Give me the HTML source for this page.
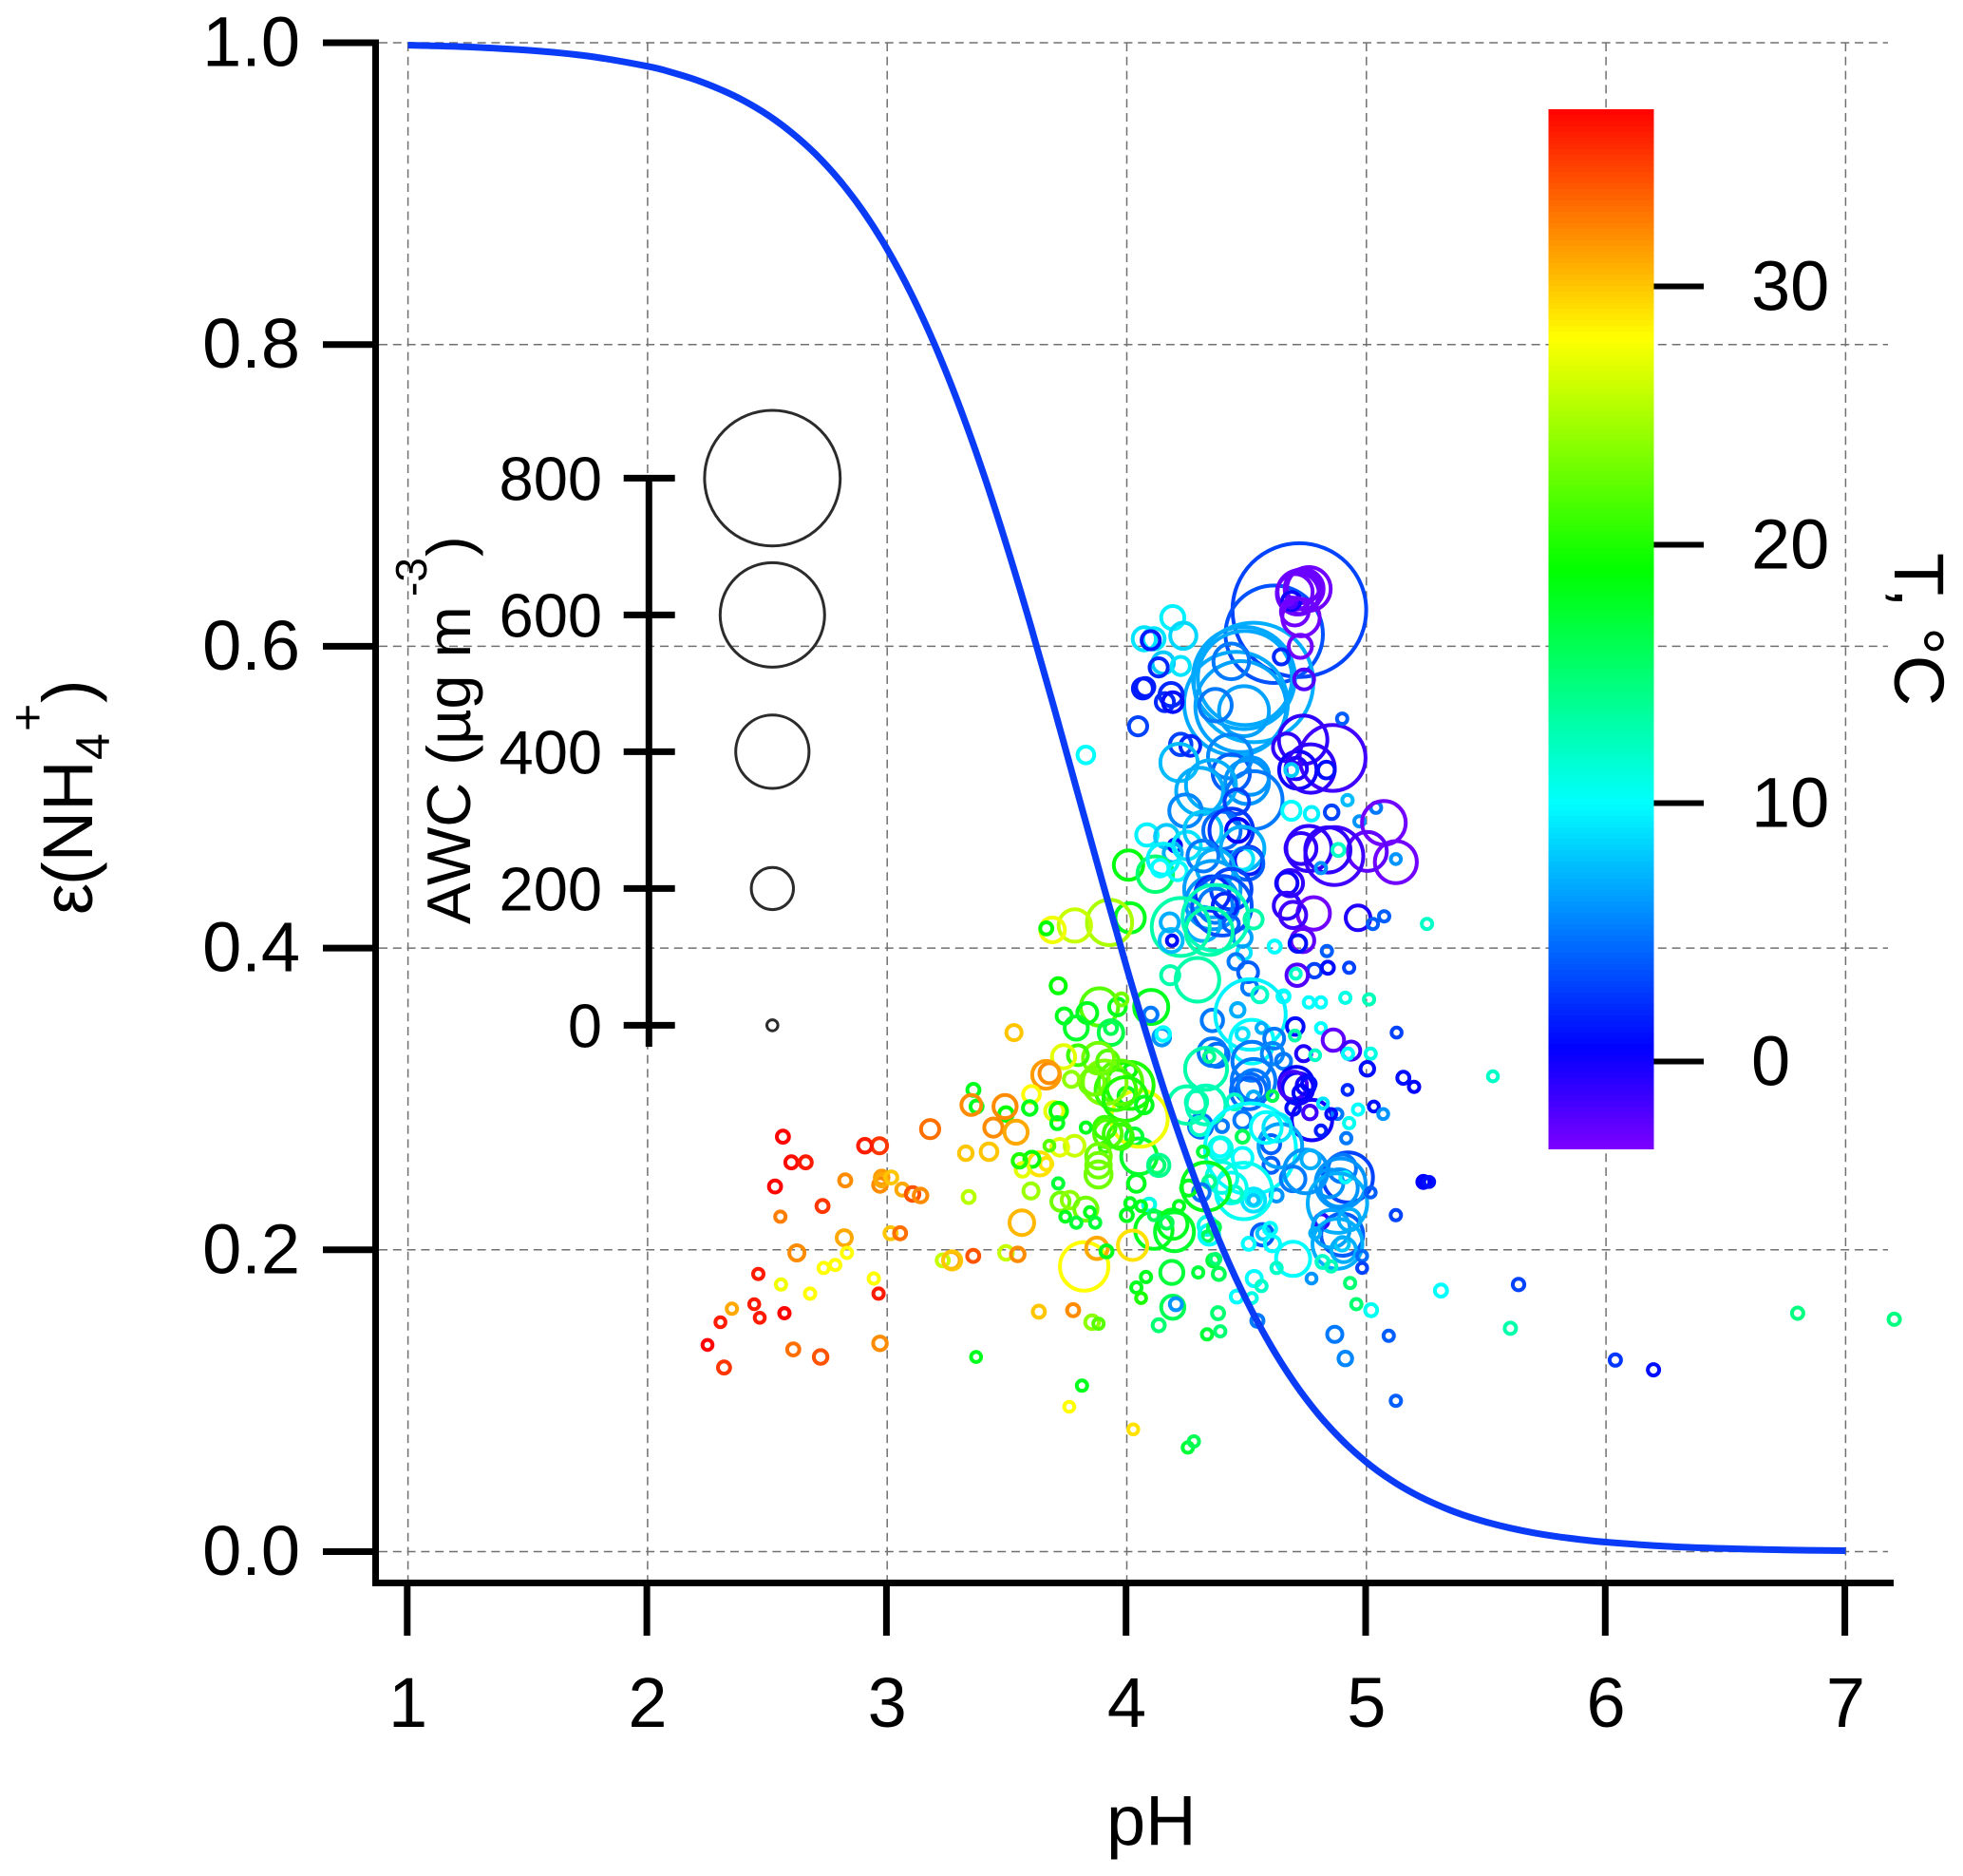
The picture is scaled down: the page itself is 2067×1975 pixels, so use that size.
<!DOCTYPE html>
<html lang="en">
<head>
<meta charset="utf-8">
<title>Epsilon NH4+ versus pH</title>
<style>
html,body{margin:0;padding:0;background:#fff;}
svg{display:block;font-family:"Liberation Sans",sans-serif;}
</style>
</head>
<body>
<svg id="chart" xmlns="http://www.w3.org/2000/svg" width="2067" height="1975" viewBox="0 0 2067 1975">
  <rect x="0" y="0" width="2067" height="1975" fill="#ffffff"/>
  <g id="grid"></g>
  <g id="colorbar"></g>
  <g id="points"></g>
  <g id="curve"></g>
  <g id="axes"></g>
  <g id="legend"></g>

  <g fill="#000" font-size="74">
    <text transform="translate(97,963) rotate(-90)">ε</text>
    <text transform="translate(97,932) rotate(-90)">(NH</text>
    <text font-size="50" transform="translate(115,800) rotate(-90)">4</text>
    <text font-size="50" transform="translate(46,770) rotate(-90)">+</text>
    <text transform="translate(97,740) rotate(-90)">)</text>
  </g>
  <text x="1165" y="1942" font-size="74" fill="#000">pH</text>
  <text transform="translate(1995,582) rotate(90)" font-size="74" fill="#000">T, °C</text>
  <g fill="#000" font-size="65">
    <text transform="translate(495,973) rotate(-90)">AWC (µg m</text>
    <text font-size="46" transform="translate(449,628) rotate(-90)">-3</text>
    <text transform="translate(495,586) rotate(-90)">)</text>
  </g>
</svg>
<script>
const yTicks = [0, 0.2, 0.4, 0.6, 0.8, 1.0];
const yTickLabels = ["0.0", "0.2", "0.4", "0.6", "0.8", "1.0"];
const xTicks = [1, 2, 3, 4, 5, 6, 7];
const xTickLabels = ["1", "2", "3", "4", "5", "6", "7"];
const tempTicks = [0, 10, 20, 30];
const tempTickLabels = ["0", "10", "20", "30"];
const awcTicks = [0, 200, 400, 600, 800];
const awcTickLabels = ["0", "200", "400", "600", "800"];

const curvePh = [1,1.25,1.5,1.75,2,2.1,2.2,2.3,2.4,2.5,2.6,2.7,2.8,2.9,3,3.1,3.2,3.3,3.4,3.5,3.6,3.7,3.8,3.9,4,4.1,4.2,4.3,4.4,4.5,4.6,4.7,4.8,4.9,5,5.1,5.2,5.3,5.4,5.5,5.6,5.7,5.8,5.9,6,6.25,6.5,6.75,7];
const curveEps = [0.9984,0.9972,0.995,0.9912,0.9844,0.9804,0.9755,0.9693,0.9617,0.9523,0.9406,0.9264,0.9091,0.8882,0.8632,0.8337,0.7992,0.7597,0.7153,0.6661,0.6131,0.5573,0.5,0.4427,0.3869,0.3339,0.2847,0.2403,0.2008,0.1663,0.1368,0.1118,0.0909,0.0736,0.0593,0.0477,0.0383,0.0307,0.0245,0.0196,0.0156,0.0124,0.0099,0.0079,0.0063,0.0035,0.002,0.0011,0.0006];

const pointPh = [
4.72,4.615,4.529,4.489,4.493,4.476,4.456,4.436,4.489,4.37,
4.76,4.74,4.72,4.701,4.714,4.734,4.687,4.687,4.701,4.727,
4.724,4.645,4.74,4.192,4.073,4.113,4.1,4.236,4.152,4.133,
4.225,4.077,4.067,4.185,4.159,4.192,4.047,3.829,4.225,4.265,
4.218,4.436,4.43,4.516,4.502,4.529,4.351,4.304,4.245,4.459,
4.736,4.668,4.859,4.714,4.707,4.767,4.833,4.899,4.687,4.687,
4.771,4.855,4.921,5.04,4.971,5.073,5.123,5.123,5.004,4.866,
4.76,4.839,4.727,4.883,4.81,4.681,4.668,4.78,4.668,4.694,
4.965,5.027,5.074,5.253,4.734,4.714,4.835,4.783,4.839,4.928,
4.711,4.705,4.617,4.489,4.456,4.506,4.483,4.084,4.166,4.201,
4.192,4.007,4.119,4.152,4.139,4.212,4.251,4.318,4.397,4.463,
4.436,4.483,4.509,4.483,4.502,4.37,4.318,4.357,4.357,4.436,
4.37,4.318,4.357,4.41,4.397,4.436,4.225,4.37,4.344,4.529,
4.185,4.179,4.189,4.014,3.928,3.783,3.69,3.664,4.181,4.295,
4.513,4.555,4.654,4.657,4.76,4.81,4.912,5.011,3.714,3.886,
3.835,3.739,3.961,3.978,3.789,3.934,3.934,4.102,4.1,4.146,
4.152,4.463,4.357,4.516,4.522,4.562,4.703,4.615,4.483,4.701,
4.81,4.862,4.936,4.923,5.018,5.004,4.738,4.786,5.126,5.154,
5.199,5.528,4.377,4.357,4.331,4.344,4.522,4.608,4.654,4.529,
4.509,4.529,4.509,4.529,4.608,4.707,4.714,4.694,4.747,4.76,
4.727,4.694,4.764,4.773,4.81,4.819,4.879,4.921,4.965,4.928,
5.031,5.07,4.916,4.853,4.308,4.304,4.397,4.483,4.291,4.251,
4.331,4.45,4.602,4.602,4.483,4.516,4.39,4.39,4.318,4.483,
4.641,4.628,4.582,4.923,4.899,4.846,4.886,4.912,4.892,4.879,
5.018,4.813,4.899,4.853,4.899,4.786,4.879,4.905,4.982,4.982,
4.929,4.694,4.747,4.767,4.566,4.569,4.598,4.509,4.694,4.608,
4.625,4.771,4.817,4.853,4.932,4.958,5.02,5.123,5.238,5.249,
5.262,5.093,4.868,4.912,5.123,5.311,4.529,4.529,4.529,4.625,
4.489,4.436,4.45,4.397,4.344,4.331,4.311,4.258,4.337,4.337,
4.344,4.364,4.199,4.113,4.192,4.166,4.218,4.093,4.014,4,
4.04,4.06,4.113,4.051,4.133,4.126,4.031,4.053,4.014,4,
4.014,3.974,3.908,3.868,3.954,3.855,3.994,4.073,3.921,3.882,
3.769,3.796,3.736,3.677,3.697,3.716,3.71,3.829,3.921,3.908,
3.961,3.974,3.908,3.882,3.882,3.882,3.782,3.72,3.677,3.664,
3.714,3.723,3.763,3.829,3.846,3.743,3.789,3.868,3.822,3.875,
3.915,4.024,4.188,4.298,4.361,4.37,4.384,4.08,4.04,4.06,
4.192,4.205,4.133,4.381,4.335,4.39,4.532,4.562,4.459,4.522,
4.545,3.776,3.855,3.882,3.813,3.76,3.529,3.663,3.602,3.595,
3.496,3.492,3.443,3.538,3.36,3.373,3.351,3.637,3.604,3.565,
3.552,3.179,2.968,2.907,3.425,3.328,2.565,2.6,2.66,2.532,
2.825,2.977,2.97,2.977,3.017,3.063,3.106,3.139,2.73,2.554,
3.34,3.6,3.014,3.054,2.821,3.562,2.623,2.832,2.783,2.735,
2.557,2.678,2.944,2.964,2.462,2.445,2.468,2.571,2.571,2.352,
2.304,2.25,2.319,2.608,2.722,2.97,3.232,3.268,3.271,3.359,
3.496,3.545,3.633,3.371,4.027,5.635,5.601,6.039,6.198,6.8,7.203,
4.255,4.28
];
const pointEps = [
.624,.608,.576,.579,.579,.56,.562,.59,.557,.561,
.638,.638,.636,.636,.635,.64,.63,.629,.623,.619,
.6,.593,.578,.619,.605,.605,.604,.607,.589,.586,
.587,.573,.572,.568,.563,.563,.547,.528,.535,.534,
.523,.516,.527,.514,.51,.498,.508,.504,.491,.497,
.538,.533,.526,.518,.519,.519,.518,.552,.518,.491,
.489,.49,.498,.493,.484,.483,.457,.459,.464,.461,
.466,.465,.466,.465,.453,.443,.443,.423,.428,.422,
.42,.416,.421,.416,.405,.403,.398,.385,.387,.387,
.382,.383,.401,.397,.391,.384,.407,.475,.474,.468,
.463,.455,.449,.459,.453,.451,.468,.478,.478,.478,
.478,.466,.458,.459,.456,.453,.461,.439,.43,.439,
.428,.416,.436,.428,.428,.416,.414,.42,.411,.419,
.405,.417,.405,.42,.417,.415,.412,.413,.382,.379,
.374,.369,.368,.368,.364,.364,.367,.366,.375,.361,
.357,.355,.361,.366,.347,.344,.347,.361,.356,.341,
.343,.359,.352,.356,.338,.347,.348,.34,.343,.342,
.347,.339,.332,.33,.33,.32,.33,.329,.344,.314,
.308,.315,.329,.331,.32,.328,.325,.33,.325,.312,
.306,.301,.305,.309,.302,.31,.307,.309,.309,.31,
.304,.294,.291,.286,.279,.297,.29,.306,.293,.284,
.295,.29,.274,.29,.282,.282,.282,.286,.298,.296,
.296,.298,.27,.256,.261,.267,.268,.267,.265,.275,
.269,.281,.281,.248,.254,.244,.241,.248,.244,.231,
.238,.219,.21,.214,.204,.211,.204,.2,.196,.188,
.22,.247,.252,.26,.21,.211,.214,.204,.194,.204,
.188,.181,.192,.189,.178,.164,.16,.223,.245,.245,
.245,.143,.144,.128,.1,.173,.233,.234,.233,.236,
.239,.241,.237,.248,.245,.242,.238,.241,.216,.209,
.21,.215,.212,.213,.217,.218,.229,.23,.231,.223,
.244,.229,.223,.262,.256,.256,.275,.287,.309,.302,
.319,.311,.311,.312,.306,.311,.3,.296,.325,.327,
.313,.329,.328,.317,.292,.292,.284,.281,.277,.281,
.277,.275,.268,.262,.256,.25,.269,.268,.269,.257,
.244,.232,.233,.227,.225,.222,.218,.218,.189,.201,
.199,.203,.185,.185,.193,.194,.184,.182,.175,.168,
.162,.164,.15,.158,.144,.146,.181,.176,.169,.168,
.153,.16,.152,.151,.11,.096,.344,.316,.303,.294,
.29,.295,.281,.278,.306,.295,.296,.257,.26,.253,
.259,.28,.269,.269,.265,.264,.275,.258,.258,.242,
.246,.248,.243,.246,.248,.24,.237,.236,.229,.222,
.235,.239,.211,.211,.208,.218,.198,.198,.19,.188,
.177,.171,.181,.171,.184,.164,.155,.158,.158,.161,
.152,.137,.122,.134,.129,.138,.193,.193,.193,.196,
.198,.197,.159,.129,.081,.177,.148,.127,.1205,.158,.154,
.069,.073
];
const pointAwc = [
794,561,703,591,540,520,601,165,256,144,
216,185,216,165,205,155,53,0,114,175,
84,33,63,84,84,73,53,104,73,53,
53,53,63,84,53,63,53,43,73,63,
175,175,216,175,216,307,256,236,144,94,
246,114,358,175,73,246,43,2,13,53,
23,23,2,2,2,216,205,0,185,307,
226,226,134,13,2,104,73,144,104,104,
94,2,2,2,84,43,2,23,13,2,
73,0,13,23,33,63,53,73,84,13,
53,124,165,134,43,53,114,175,175,84,
216,216,114,73,144,175,134,297,276,195,
155,155,155,94,317,33,307,358,236,53,
84,53,2,124,226,144,94,13,53,216,
33,33,13,0,2,2,2,2,33,175,
63,33,43,13,84,94,13,155,23,43,
23,23,73,388,216,0,43,63,13,0,
0,73,53,2,2,23,33,0,0,13,
2,0,84,114,205,2,185,73,33,216,
94,13,165,134,0,155,134,114,53,23,
33,23,23,195,2,0,0,0,2,2,
0,0,2,0,84,53,13,43,73,175,
185,33,53,33,63,520,53,84,2,13,
216,114,134,256,114,114,175,0,256,317,
0,23,205,175,23,0,256,94,0,0,
73,94,216,53,73,13,13,13,155,33,
2,0,13,2,2,2,13,2,13,0,
0,2,33,23,2,13,84,33,0,13,
297,134,33,134,13,246,43,33,53,0,
63,13,185,175,124,13,2,13,0,13,
43,0,0,165,73,33,43,297,236,43,
13,216,216,114,195,94,216,43,73,134,
33,63,84,63,53,43,13,2,114,73,
114,94,0,94,94,104,63,43,0,13,
2,53,43,84,0,0,2,2,246,73,
13,124,84,2,13,0,13,2,2,0,
84,13,13,13,2,2,33,2,13,0,
13,13,23,2,2,0,33,114,43,23,
23,84,53,84,13,13,63,84,33,23,
23,53,33,23,43,23,13,13,13,13,
13,23,23,13,13,13,23,23,13,2,
13,33,13,13,33,94,33,2,2,2,
2,2,2,2,2,0,0,2,0,2,
0,0,13,13,23,23,13,43,53,13,
23,23,13,0,0,10,8,8,8,8,8,
2,2
];
const pointTemp = [
3,3.5,7,6.8,6.8,6.5,6.8,5,6.5,5,
-3,-3,-3,-3,-2.8,-2.8,0,-2,-3,-3,
-3,2,-2,9.5,9,9,1.5,8.5,8,2,
9,1.5,1.5,2,2,1,3,10,3,2,
7.5,4,5.5,6,6,5,7,7,5.5,3,
-1,-1,-1.5,0,-.5,-1,1,4,8,10,
9.5,3,7.5,5,6,-3,-3,6,-2.5,-1.5,
-1,-1,-1,12,6,-1,0,-3,-1,-1.5,
-.5,4,4,12,-2.5,1,4,3,1,3,
-2,12,10,9,5,4,6.5,9.5,8,1,
7,18.5,15,9.5,10,10,9,8,4.5,.5,
2.5,7,1.5,9,4,7,5,6.5,6,3,
5,7,2,2,3.5,4,13,12.5,13,13,
7.5,7,1,18,25,26,27.5,19,13,13,
5,12,10,10,10,10,11,12.5,19,22,
18,18,18,23,17.5,16.5,16,18,5,6,
10,7,5,9.5,10,7,1,5,9,13,
10,-2.5,-1.5,10,11,1,-.5,12,3,1,
.5,12,4.5,5,13,14,5,5.5,5,5,
4,7,4.5,5,16,.5,0,-1.5,0,1,
.5,1,-1.5,0,1.5,9,5,2,10,10.5,
1,6,5,1,4.5,12,5,5,13,13,
12.5,12,4,4,10,10,10,11,17,16,
6.5,9,10,3,5,6,6,10,6,7,
4,-1,4,6.5,8,7,7,7,4.5,3,
7,5,6,7,4,8,10,10,10,10,
12,6,12,12.5,15,15,10.5,3,.5,.5,
1,4,5,5.5,4,10,9,9.5,8,6,
10.5,10.5,12,11,14,18,5,18,11,16,
10,16,17.5,18,18,16,18,11,18,18,
18,18,16,17.5,14,15,17,27.5,20,18,
19,22,23.5,23,21,23,20,18,22,23,
24,21,27,32,27,19,18,18,22,21,
21,21,21,23,23,23,26,27,22,29,
17,23,24,23,18,18,17,17,28,31,
18,29,17,17,17,15,16,18,18,20,
16,6,15,15,17,15,10,12,10,11,
5,32,24,22,18,28,30,31.5,28,18,
19,32,32,31,18,18,32,29,19,27,
20,33,35,36,30,30,36.8,36.5,36,36.8,
32,31.5,32,31,30,31,34,32,35,32.5,
25.5,24.5,30,33,31,30.5,32,28,28,28,
27.5,28,28,36,36,36,36,36.8,36.8,31,
36,36.8,35,33,34,32,26,31,30,34,
26,32,30,18,29,3,13,2.5,1,14.5,14.5,
17,16
];

const rainbowTemps = [-3.4, 0.5, 10, 19, 28, 36.9];
const rainbowReds = [125, 0, 0, 0, 255, 255];
const rainbowGreens = [0, 0, 255, 255, 255, 0];
const rainbowBlues = [255, 255, 255, 0, 0, 0];

function xScale(ph) { return 429.6 + (ph - 1) * 252.3; }
function yScale(eps) { return 1633.5 - eps * 1588.5; }
function tempScale(t) { return 1117.5 - t * 27.2; }
function awcScale(a) { return 1079.4 - a * 0.72; }
function radiusScale(a) { return 7.3 + a * 0.082; }

function tempColor(t) {
  let i = 0;
  while (i < rainbowTemps.length - 2 && t > rainbowTemps[i + 1]) i++;
  const f = Math.max(0, Math.min(1, (t - rainbowTemps[i]) / (rainbowTemps[i + 1] - rainbowTemps[i])));
  const mix = function (c) { return Math.round(c[i] + (c[i + 1] - c[i]) * f); };
  return "rgb(" + mix(rainbowReds) + "," + mix(rainbowGreens) + "," + mix(rainbowBlues) + ")";
}

const SVG_NS = "http://www.w3.org/2000/svg";
function make(parent, tag, attrs, text) {
  const el = document.createElementNS(SVG_NS, tag);
  for (const k in attrs) el.setAttribute(k, attrs[k]);
  if (text !== undefined) el.textContent = text;
  parent.appendChild(el);
  return el;
}

const gridGroup = document.getElementById("grid");
const colorbarGroup = document.getElementById("colorbar");
const pointsGroup = document.getElementById("points");
const curveGroup = document.getElementById("curve");
const axesGroup = document.getElementById("axes");
const legendGroup = document.getElementById("legend");
const gridStyle = { stroke: "#707070", "stroke-width": 1.5, "stroke-dasharray": "9 5.8", fill: "none" };

yTicks.forEach(function (v) {
  const el = make(gridGroup, "line", Object.assign({ x1: 399, x2: 1988, y1: yScale(v), y2: yScale(v) }, gridStyle));
  
  
});
xTicks.forEach(function (v) {
  const el = make(gridGroup, "line", Object.assign({ x1: xScale(v), x2: xScale(v), y1: 45, y2: 1663 }, gridStyle));
  
  
});

const colorbarTop = 115;
const colorbarBottom = 1210;
const colorbarBandHeight = 6;
for (let y = colorbarTop; y < colorbarBottom; y += colorbarBandHeight) {
  const t = (1117.5 - (y + colorbarBandHeight / 2)) / 27.2;
  const band = make(colorbarGroup, "rect", { x: 1630.5, y: y, width: 111, height: Math.min(colorbarBandHeight + 0.5, colorbarBottom - y), fill: tempColor(t) });
  
  
}
tempTicks.forEach(function (v, i) {
  const tick = make(colorbarGroup, "line", { x1: 1741.5, x2: 1794, y1: tempScale(v), y2: tempScale(v), stroke: "#000", "stroke-width": 6 });
  
  
  const label = make(colorbarGroup, "text", { x: 1844, y: tempScale(v) + 25, "font-size": 74, fill: "#000" }, tempTickLabels[i]);
  
  
});

pointPh.forEach(function (ph, i) {
  const c = make(pointsGroup, "circle", { cx: xScale(ph).toFixed(1), cy: yScale(pointEps[i]).toFixed(1), r: (radiusScale(pointAwc[i]) - 2).toFixed(1), fill: "none", stroke: tempColor(pointTemp[i]), "stroke-width": 4 });
  
  
});

function curvePathData() {
  const pts = curvePh.map(function (p, i) { return [xScale(p), yScale(curveEps[i])]; });
  let d = "M" + pts[0][0].toFixed(1) + " " + pts[0][1].toFixed(1);
  for (let i = 0; i < pts.length - 1; i++) {
    const p0 = pts[Math.max(i - 1, 0)];
    const p1 = pts[i];
    const p2 = pts[i + 1];
    const p3 = pts[Math.min(i + 2, pts.length - 1)];
    d += "C" + (p1[0] + (p2[0] - p0[0]) / 6).toFixed(1) + " " + (p1[1] + (p2[1] - p0[1]) / 6).toFixed(1) + " " +
      (p2[0] - (p3[0] - p1[0]) / 6).toFixed(1) + " " + (p2[1] - (p3[1] - p1[1]) / 6).toFixed(1) + " " +
      p2[0].toFixed(1) + " " + p2[1].toFixed(1);
  }
  return d;
}
const curvePath = make(curveGroup, "path", { d: curvePathData(), fill: "none", stroke: "#0a3cf8", "stroke-width": 7, "stroke-linejoin": "round" });



const yAxisLine = make(axesGroup, "line", { x1: 395.5, x2: 395.5, y1: 41.5, y2: 1670, stroke: "#000", "stroke-width": 7 });


const xAxisLine = make(axesGroup, "line", { x1: 392, x2: 1994, y1: 1666.5, y2: 1666.5, stroke: "#000", "stroke-width": 7 });


yTicks.forEach(function (v, i) {
  const tick = make(axesGroup, "line", { x1: 340, x2: 395, y1: yScale(v), y2: yScale(v), stroke: "#000", "stroke-width": 7 });
  
  
  const label = make(axesGroup, "text", { x: 316, y: yScale(v) + 24.5, "text-anchor": "end", "font-size": 74, fill: "#000" }, yTickLabels[i]);
  
  
});
xTicks.forEach(function (v, i) {
  const tick = make(axesGroup, "line", { x1: xScale(v) - 0.8, x2: xScale(v) - 0.8, y1: 1668, y2: 1722, stroke: "#000", "stroke-width": 7 });
  
  
  const label = make(axesGroup, "text", { x: xScale(v), y: 1818, "text-anchor": "middle", "font-size": 74, fill: "#000" }, xTickLabels[i]);
  
  
});

const legendAxis = make(legendGroup, "line", { x1: 683.3, x2: 683.3, y1: awcScale(800) - 3, y2: 1102, stroke: "#000", "stroke-width": 7 });


awcTicks.forEach(function (v, i) {
  const tick = make(legendGroup, "line", { x1: 656.7, x2: 710.7, y1: awcScale(v), y2: awcScale(v), stroke: "#000", "stroke-width": 7 });
  
  
  const label = make(legendGroup, "text", { x: 634, y: awcScale(v) + 23, "text-anchor": "end", "font-size": 65, fill: "#000" }, awcTickLabels[i]);
  
  
  const circle = make(legendGroup, "circle", { cx: 813.3, cy: awcScale(v), r: radiusScale(v) - 1.5, fill: "none", stroke: "#2b2b2b", "stroke-width": 3 });
  
  
});
</script>
</body>
</html>
